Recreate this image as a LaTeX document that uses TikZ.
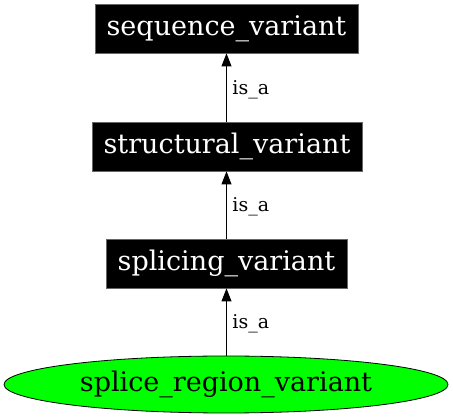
\documentclass[tikz,border=0pt]{standalone}
\usepackage{fontspec}
\setmainfont{DejaVu Serif}
\usetikzlibrary{arrows.meta,shapes.geometric}
\begin{document}
\begin{tikzpicture}[x=1pt,y=1pt,
  termbox/.style={rectangle, fill=black, draw=black!60, line width=0.8pt, text=white,
    minimum width=#1, minimum height=49pt, inner sep=0pt,
    font=\fontsize{27}{31}\selectfont},
  leafnode/.style={ellipse, fill=green, draw=black, line width=0.8pt, text=black,
    minimum width=444pt, minimum height=57pt, inner sep=0pt,
    font=\fontsize{27}{31}\selectfont},
  isa/.style={draw=black, line width=0.9pt, -{Triangle[length=13pt,width=10pt]}},
  edgelabel/.style={anchor=west, inner sep=0pt, xshift=5.5pt, yshift=-2pt, font=\fontsize{19}{21}\selectfont}
]
\useasboundingbox (0,0) rectangle (453,-419);
\node[termbox=263pt] (seq) at (226.5,-28.5) {sequence\_variant};
\node[termbox=270pt] (struct) at (227,-146.5) {structural\_variant};
\node[termbox=241pt] (splicing) at (226.5,-263.5) {splicing\_variant};
\node[leafnode] (region) at (226,-384.5) {splice\_region\_variant};
\draw[isa] (struct.north -| seq.south) -- node[edgelabel] {is\_a} (seq.south);
\draw[isa] (splicing.north -| seq.south) -- node[edgelabel] {is\_a} (struct.south -| seq.south);
\draw[isa] (region.north -| seq.south) -- node[edgelabel] {is\_a} (splicing.south -| seq.south);
\end{tikzpicture}
\end{document}
